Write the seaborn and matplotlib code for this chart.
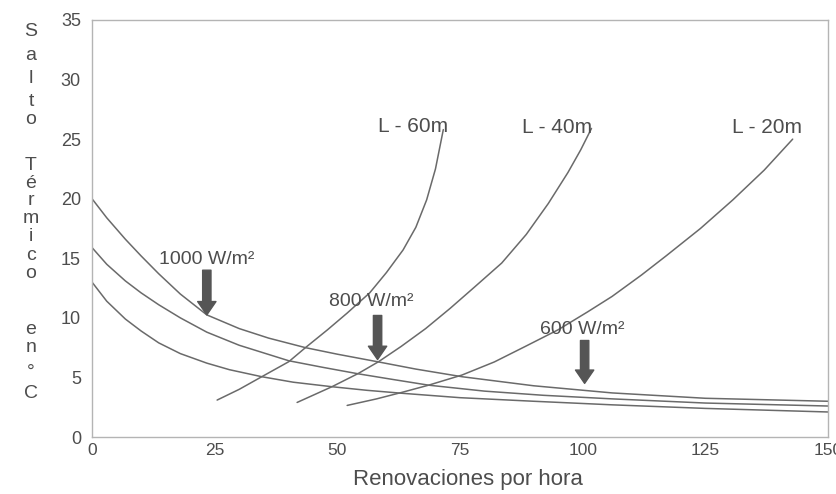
import matplotlib
matplotlib.use('Agg')
import matplotlib.pyplot as plt
import pandas as pd
import seaborn as sns

# ---- data ----
# decreasing curves (irradiance)
w1000_x = [0, 3, 6.8, 10, 13.6, 18, 23.4, 30, 36, 43.5, 50, 58.4, 66, 75.4, 90, 106, 125, 150]
w1000_y = [20.0, 18.4, 16.6, 15.2, 13.7, 12.0, 10.25, 9.1, 8.3, 7.5, 6.95, 6.3, 5.7, 5.06, 4.3, 3.7, 3.25, 3.0]
w800_x = [0, 3, 6.8, 10, 13.6, 18, 23.4, 30, 40.1, 47, 54.3, 61, 68.6, 80, 92, 106, 125, 150]
w800_y = [15.9, 14.5, 13.1, 12.1, 11.1, 10.0, 8.8, 7.7, 6.4, 5.85, 5.3, 4.85, 4.35, 3.85, 3.5, 3.2, 2.85, 2.6]
w600_x = [0, 3, 6.8, 10, 13.6, 18, 23.4, 28, 34.6, 41, 48.9, 56, 63.2, 75, 90, 106, 125, 150]
w600_y = [13.0, 11.4, 9.9, 8.9, 7.9, 7.0, 6.2, 5.65, 5.06, 4.6, 4.22, 3.92, 3.67, 3.3, 3.0, 2.7, 2.4, 2.1]
# increasing curves (length)
l60_x = [25.5, 30, 34.6, 40.1, 43.5, 48, 52, 56.6, 60, 63.4, 66, 68.2, 70, 71.6]
l60_y = [3.1, 4.0, 5.06, 6.32, 7.5, 9.0, 10.4, 12.1, 13.8, 15.7, 17.6, 19.9, 22.5, 25.8]
l40_x = [41.8, 48.9, 54.3, 58.4, 63, 68, 73, 78, 83.5, 88.5, 93, 97, 99.6, 101.8]
l40_y = [2.9, 4.22, 5.34, 6.32, 7.6, 9.1, 10.8, 12.6, 14.6, 17.0, 19.6, 22.2, 24.1, 25.9]
l20_x = [52, 58, 63.2, 68.6, 75.4, 82, 88.3, 95, 101, 106, 112, 117, 124, 130.6, 137, 142.8]
l20_y = [2.65, 3.2, 3.75, 4.35, 5.2, 6.3, 7.6, 9.0, 10.5, 11.8, 13.6, 15.2, 17.5, 19.9, 22.4, 25.0]

curve_names = ['1000 W/m²', '800 W/m²', '600 W/m²', 'L - 60m', 'L - 40m', 'L - 20m']
curve_x = [w1000_x, w800_x, w600_x, l60_x, l40_x, l20_x]
curve_y = [w1000_y, w800_y, w600_y, l60_y, l40_y, l20_y]

# arrow annotations: label, x, arrow tail y, arrow tip y, label position
arrow_labels = ['1000 W/m²', '800 W/m²', '600 W/m²']
arrow_x = [23.4, 58.2, 100.4]
arrow_tail = [14.0, 10.2, 8.1]
arrow_tip = [10.25, 6.5, 4.5]
arrow_label_x = [23.4, 57.0, 100.0]
arrow_label_y = [14.9, 11.4, 9.0]

length_labels = ['L - 60m', 'L - 40m', 'L - 20m']
length_label_x = [72.6, 102.0, 144.8]
length_label_y = [26.1, 26.0, 26.0]

x_ticks = [0, 25, 50, 75, 100, 125, 150]
y_ticks = [0, 5, 10, 15, 20, 25, 30, 35]
x_label = 'Renovaciones por hora'
y_label = 'Salto Térmico en °C'

rows = []
for name, xs, ys in zip(curve_names, curve_x, curve_y):
    for xv, yv in zip(xs, ys):
        rows.append({'x': xv, 'y': yv, 'curve': name})
df = pd.DataFrame(rows)

# ---- styling ----
sns.set_theme(style='white')
plt.rcParams['font.family'] = ['Liberation Sans', 'DejaVu Sans']

TXT = '#4d4d4d'
LINE = '#6a6a6a'
FRAME = '#b4b4b4'

fig = plt.figure(figsize=(8.37, 4.94), dpi=100)
fig.patch.set_facecolor('white')
ax = fig.add_axes([92 / 837, 57 / 494, 736 / 837, 417 / 494])

sns.lineplot(data=df, x='x', y='y', units='curve', estimator=None, sort=False,
             color=LINE, lw=1.1, ax=ax, legend=False)

ax.set_xlim(0, 150)
ax.set_ylim(0, 35)
ax.set_xticks(x_ticks)
ax.set_yticks(y_ticks)
ax.tick_params(direction='in', length=4, width=0.8, color='#a0a0a0',
               labelcolor=TXT)
ax.tick_params(axis='x', labelsize=12.5, pad=4)
ax.tick_params(axis='y', labelsize=13, pad=8)
for s in ax.spines.values():
    s.set_visible(True)
    s.set_color(FRAME)
    s.set_linewidth(1.0)
ax.set_ylabel('')
ax.set_xlabel(x_label, fontsize=16, color=TXT)
ax.xaxis.set_label_coords((468 - 92) / 736, (437 - 469) / 417)

# arrows and their labels
for lab, xa, yt, yp, lx, ly in zip(arrow_labels, arrow_x, arrow_tail, arrow_tip,
                                    arrow_label_x, arrow_label_y):
    ax.annotate('', xy=(xa, yp), xytext=(xa, yt),
                arrowprops=dict(arrowstyle='simple,head_width=1.1,head_length=0.8,tail_width=0.5',
                                color='#555555', mutation_scale=12, shrinkA=0, shrinkB=0))
    ax.text(lx, ly, lab, fontsize=14, color=TXT, ha='center', va='center')

for lab, lx, ly in zip(length_labels, length_label_x, length_label_y):
    ax.text(lx, ly, lab, fontsize=15, color=TXT, ha='right', va='center')

# vertical stacked y label
letter_y = [31, 55, 78, 101, 120, 165, 183, 200, 218, 236, 255, 273, 330, 347, 372, 393]
letters = [c for c in y_label if c != ' ']
for c, py in zip(letters, letter_y):
    fig.text(31 / 837, 1 - py / 494, c, fontsize=14, color=TXT,
             ha='center', va='center')

fig.savefig('out.png', dpi=100, facecolor='white')
